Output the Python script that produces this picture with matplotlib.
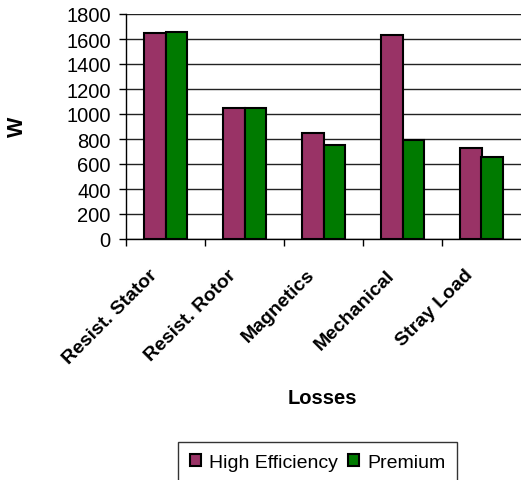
import matplotlib
matplotlib.use("Agg")
import matplotlib.pyplot as plt
import numpy as np

categories = ["Resist. Stator", "Resist. Rotor", "Magnetics", "Mechanical", "Stray Load"]
high_efficiency = [1650, 1050, 850, 1630, 730]
premium = [1660, 1050, 750, 790, 660]
y_ticks = [0, 200, 400, 600, 800, 1000, 1200, 1400, 1600, 1800]

plt.rcParams["font.family"] = ["Liberation Sans", "DejaVu Sans"]

fig = plt.figure(figsize=(5.21, 4.81), dpi=100)
ax = fig.add_axes([126 / 521, 1 - 240 / 481, 1 - 126 / 521, 225 / 481])

x = np.arange(len(categories))
w = 0.277
ax.bar(x - w / 2, high_efficiency, w, color="#993366", edgecolor="black",
       linewidth=1.5, label="High Efficiency", zorder=3)
ax.bar(x + w / 2, premium, w, color="#007A00", edgecolor="black",
       linewidth=1.5, label="Premium", zorder=3)

ax.set_xlim(-0.5, len(categories) - 0.5)
ax.set_ylim(0, 1800)
ax.set_yticks(y_ticks)
ax.set_yticklabels([str(v) for v in y_ticks], fontsize=14.5)
ax.yaxis.grid(True, color="#222222", linewidth=1.0, zorder=0)

ax.set_xticks(np.arange(len(categories)) - 0.5)
ax.set_xticklabels([])
ax.tick_params(axis="x", direction="out", length=5, width=1, colors="black")
ax.tick_params(axis="y", direction="out", length=5, width=1, pad=6)

for i, name in enumerate(categories):
    ax.annotate(name, xy=(i, 0), xycoords="data", xytext=(-17, -27),
                textcoords="offset pixels", rotation=45, ha="right", va="top",
                rotation_mode="anchor", fontsize=14, fontweight="bold")

for s in ["top", "right"]:
    ax.spines[s].set_visible(False)
ax.spines["left"].set_linewidth(1)
ax.spines["bottom"].set_linewidth(1)

fig.text(17 / 521, 1 - 127 / 481, "W", rotation=90, fontsize=15.5,
         fontweight="bold", ha="center", va="center")
fig.text(322 / 521, 1 - 399 / 481, "Losses", fontsize=14.5,
         fontweight="bold", ha="center", va="center")

leg = fig.legend(loc="upper left", bbox_to_anchor=(178 / 521, 1 - 443 / 481),
                 ncol=2, fontsize=14, frameon=True, fancybox=False,
                 edgecolor="black", handlelength=0.6, handleheight=0.6,
                 handletextpad=0.4, columnspacing=0.5, borderpad=0.6,
                 borderaxespad=0)
leg.get_frame().set_linewidth(1)

fig.savefig("out.png", dpi=100)
